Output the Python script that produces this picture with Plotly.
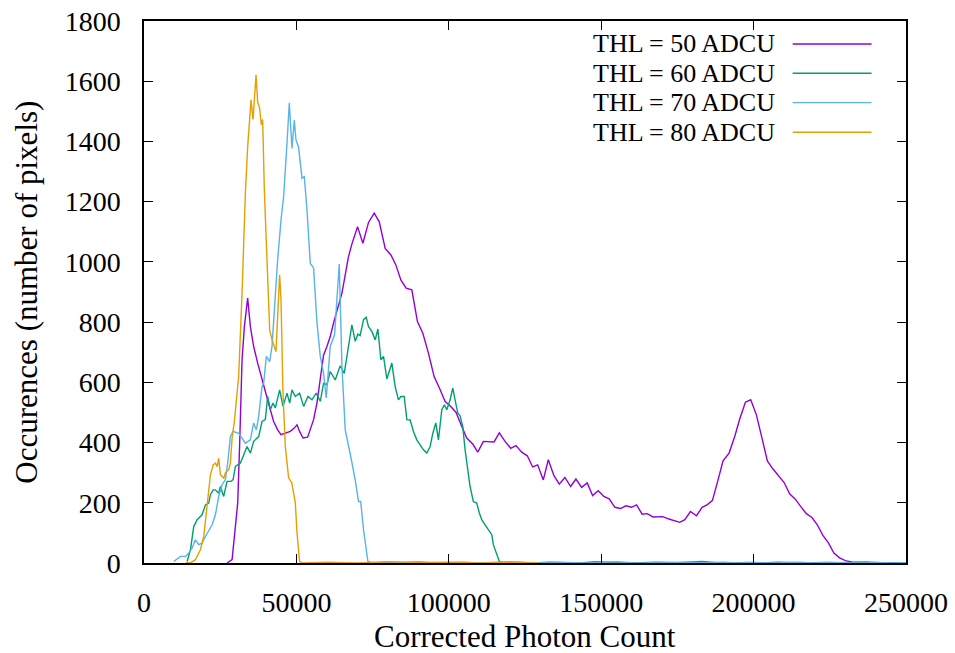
import plotly.graph_objects as go

# ---------------- data ----------------
thl50_x = [27250, 28900, 29980, 30740, 31390, 32170, 32930, 34010, 34900, 35980, 37290, 38720, 40140, 41450,
           42530, 43850, 44950, 46360, 48000, 49310, 50200, 51050, 52160, 53680, 54550, 55640, 56740, 57830,
           58920, 60020, 61100, 62190, 63500, 64940, 66020, 67100, 68200, 68970, 70060, 71810, 73660, 75520,
           77160, 79130, 81000, 82630, 84270, 86010, 87870, 89710, 91480, 93320, 95180, 96920, 98790, 100650,
           102390, 104260, 105890, 107860, 109500, 111340, 112980, 114840, 116580, 118450, 120310, 122050,
           123910, 125750, 127520, 129160, 131000, 132640, 134500, 136240, 138100, 139970, 141710, 143570,
           145410, 147180, 149020, 150880, 152620, 154490, 156350, 158090, 159960, 161600, 163430, 165100,
           167000, 170200, 172200, 174150, 175790, 177430, 179290, 181260, 183100, 184730, 186500, 188340,
           189980, 191950, 193810, 195450, 197310, 199050, 200920, 202750, 204520, 206360, 208220, 209960,
           211830, 213690, 215430, 217300, 219140, 220900, 222740, 224600, 226340, 228210, 230080, 232570,
           236940, 239130, 245000]
thl50_y = [0, 11, 121, 199, 398, 675, 785, 880, 785, 719, 664, 608, 553, 509,
           470, 442, 426, 431, 437, 448, 459, 437, 415, 418, 442, 476, 531, 608,
           691, 719, 752, 797, 846, 896, 957, 1018, 1059, 1084, 1117, 1062, 1131, 1162,
           1134, 1045, 1023, 990, 940, 913, 907, 802, 763, 697, 619, 581, 536, 520,
           500, 453, 415, 395, 368, 404, 404, 402, 432, 404, 381, 390,
           368, 356, 319, 326, 276, 343, 290, 262, 284, 254, 279, 251,
           266, 224, 240, 221, 213, 185, 181, 190, 185, 193, 162, 164,
           153, 154, 146, 141, 135, 144, 171, 157, 185, 193, 208, 276,
           339, 365, 420, 478, 534, 542, 492, 415, 339, 312, 290, 268,
           230, 212, 188, 164, 151, 127, 92, 66, 33, 17, 8, 3,
           3, 0, 0]

thl60_x = [14150, 15240, 16320, 17430, 19060, 20150, 21240, 21790, 22670, 23430, 24500, 25070, 26150, 27250,
           28560, 29230, 30000, 31620, 32700, 33800, 34900, 35980, 37620, 38720, 39800, 40570, 41450, 42330, 43090,
           44500, 45600, 46920, 47800, 48550, 49640, 51050, 52370, 53800, 55110, 56520, 57830, 58920, 60020,
           61100, 62740, 64380, 65700, 67100, 68200, 69300, 70170, 70900, 72030, 72900, 73660, 74760, 75850,
           76740, 77710, 78580, 79680, 81320, 82400, 83480, 84270, 85370, 86240, 87320, 88400, 89500, 90600,
           91680, 92790, 93870, 94760, 95740, 96600, 97700, 98560, 99350, 100430, 101300, 102060, 102940,
           103700, 104590, 105340, 106100, 106980, 108060, 109170, 110020, 110800, 111900, 112980, 114100,
           114620, 115730, 116580, 118000, 123000, 128000, 133000, 138000, 143000, 148000, 153000, 158000,
           163000, 168000, 173000, 178000, 183000, 188000, 193000, 198000, 203000, 208000, 213000, 218000,
           223000, 228000, 233000, 238000, 243000, 248000]
thl60_y = [5, 44, 121, 144, 160, 193, 199, 227, 243, 243, 232, 254, 221, 271,
           271, 277, 321, 332, 359, 387, 365, 404, 420, 470, 476, 553, 509, 531, 515,
           575, 520, 564, 531, 575, 553, 564, 520, 553, 542, 564, 537, 597, 592,
           636, 608, 655, 630, 719, 791, 736, 760, 755, 808, 816, 785, 769, 741,
           777, 675, 686, 611, 664, 586, 542, 553, 553, 476, 475, 437, 409, 393,
           376, 365, 387, 431, 465, 409, 509, 525, 509, 542, 581, 542, 498,
           489, 453, 376, 310, 254, 204, 199, 166, 144, 127, 110, 94,
           61, 28, 5, 0, 2, 0, 3, 1, 0, 4, 2, 0,
           1, 3, 0, 2, 5, 1, 0, 2, 0, 3, 1, 0,
           2, 1, 0, 3, 0, 1]

thl70_x = [9770, 11960, 13600, 14680, 15790, 16870, 17960, 19060, 20150, 21240, 22340, 23430, 24510, 25620,
           26700, 27460, 28340, 29230, 31060, 32170, 33260, 34900, 35980, 36860, 37620, 38720, 39260, 40140,
           41230, 42000, 43090, 43850, 44950, 45810, 46920, 47670, 48550, 49310, 49860, 50720, 51830, 52590,
           53470, 54550, 55640, 56740, 57830, 58920, 59800, 61100, 62530, 64060, 64940, 66020, 67660, 69300,
           70380, 71100, 72030, 73460, 75000,
           80000, 85000, 90000, 95000, 100000, 105000, 110000, 115000, 120000, 125000, 130000, 135000,
           140000, 145000, 150000, 155000, 160000, 165000, 170000, 175000, 180000, 185000, 190000, 195000,
           200000, 205000, 210000, 215000, 220000, 225000, 230000, 235000, 240000, 245000, 250000]
thl70_y = [5, 22, 22, 33, 50, 77, 61, 66, 88, 110, 127, 160, 221, 260,
           277, 332, 420, 437, 431, 415, 398, 409, 465, 442, 487, 586, 597, 686,
           669, 719, 896, 1007, 1139, 1217, 1394, 1528, 1377, 1471, 1405, 1381, 1278, 1283,
           1173, 995, 980, 800, 686, 630, 548, 719, 758, 993, 653, 442, 362, 276,
           204, 204, 110, 5, 0,
           3, 1, 4, 0, 2, 3, 0, 1, 4, 2, 0, 3,
           1, 0, 2, 4, 1, 0, 3, 2, 0, 1, 3, 0,
           2, 0, 1, 3, 0, 2, 1, 0, 2, 0, 1]

thl80_x = [13600, 15500, 16870, 18500, 19600, 20700, 21790, 22700, 23430, 24000, 24510, 25070, 26150, 26700,
           27800, 28340, 28900, 29650, 30530, 31060, 32170, 33260, 34020, 35120, 35780, 36760, 37290, 37940,
           38500, 38930, 39480, 40370, 41230, 42000, 43300, 44500, 44950, 45600, 46360, 47450, 48500, 49640,
           50200, 51050, 52000, 60000, 70000, 80000, 90000, 100000, 110000, 120000, 130000]
thl80_y = [0, 2, 11, 44, 88, 188, 293, 326, 332, 320, 348, 293, 282, 299,
           310, 332, 415, 470, 553, 620, 897, 1229, 1383, 1538, 1473, 1621, 1532, 1510,
           1455, 1473, 1239, 1007, 774, 741, 702, 957, 874, 565, 387, 283, 266, 200,
           100, 5, 0, 3, 0, 4, 2, 3, 0, 2, 0]

series_names = ["THL = 50 ADCU", "THL = 60 ADCU", "THL = 70 ADCU", "THL = 80 ADCU"]
series_colors = ["#9400d3", "#009e73", "#56b4e9", "#e69f00"]

x_tickvals = [0, 50000, 100000, 150000, 200000, 250000]
x_ticktext = ["0", "50000", "100000", "150000", "200000", "250000"]
y_tickvals = [0, 200, 400, 600, 800, 1000, 1200, 1400, 1600, 1800]
y_ticktext = ["0", "200", "400", "600", "800", "1000", "1200", "1400", "1600", "1800"]

x_title = "Corrected Photon Count"
y_title = "Occurences (number of pixels)"

# ---------------- figure ----------------
W, H = 955, 653
L, R, T, B = 143.5, 48.5, 21, 89.7
pw, ph = W - L - R, H - T - B

def px_to_paper_x(p):
    return (p - L) / pw

def px_to_paper_y(p):
    return (H - B - p) / ph

FONT = "Liberation Serif"
TEXT_SIZE = 31
KEY_SIZE = 26

fig = go.Figure()
all_x = [thl50_x, thl60_x, thl70_x, thl80_x]
all_y = [thl50_y, thl60_y, thl70_y, thl80_y]
for xs, ys, name, col in zip(all_x, all_y, series_names, series_colors):
    fig.add_trace(go.Scatter(x=xs, y=ys, mode="lines", name=name,
                             line=dict(color=col, width=1.4), showlegend=False))

axis_common = dict(showline=True, linecolor="black", linewidth=1.5, mirror="allticks",
                   ticks="inside", ticklen=9, tickwidth=1.2, tickcolor="black",
                   showgrid=False, zeroline=False, automargin=False,
                   tickfont=dict(family=FONT, size=28, color="black"))

fig.update_xaxes(range=[0, 250000], tickvals=x_tickvals, ticktext=x_ticktext,
                 ticklabelstandoff=14, **axis_common)
fig.update_yaxes(range=[0, 1800], tickvals=y_tickvals, ticktext=y_ticktext,
                 ticklabelstandoff=16, **axis_common)

annotations = []
shapes = []
# axis titles
annotations.append(dict(text=x_title, x=0.5, y=px_to_paper_y(637), xref="paper", yref="paper",
                        xanchor="center", yanchor="middle", showarrow=False,
                        font=dict(family=FONT, size=TEXT_SIZE, color="black")))
annotations.append(dict(text=y_title, x=px_to_paper_x(25), y=0.5, xref="paper", yref="paper",
                        xanchor="center", yanchor="middle", showarrow=False, textangle=-90,
                        font=dict(family=FONT, size=TEXT_SIZE, color="black")))
# gnuplot-style key: text on the left, sample line on the right
row_y = [44, 73.3, 102.7, 132.3]
for name, col, ry in zip(series_names, series_colors, row_y):
    annotations.append(dict(text=name, x=px_to_paper_x(776), y=px_to_paper_y(ry),
                            xref="paper", yref="paper", xanchor="right", yanchor="middle",
                            showarrow=False, borderpad=0,
                            font=dict(family=FONT, size=KEY_SIZE, color="black")))
    shapes.append(dict(type="line", xref="paper", yref="paper",
                       x0=px_to_paper_x(793), x1=px_to_paper_x(872),
                       y0=px_to_paper_y(ry), y1=px_to_paper_y(ry),
                       line=dict(color=col, width=1.4)))

fig.update_layout(width=W, height=H, margin=dict(l=L, r=R, t=T, b=B, pad=0, autoexpand=False),
                  paper_bgcolor="white", plot_bgcolor="white",
                  annotations=annotations, shapes=shapes,
                  font=dict(family=FONT, color="black"))

# remove the default page margin so the figure sits at the window's top-left corner
fig.write_html("out.html", config={"displayModeBar": False},
               post_script="document.body.style.margin='0';document.body.style.overflow='hidden';")
